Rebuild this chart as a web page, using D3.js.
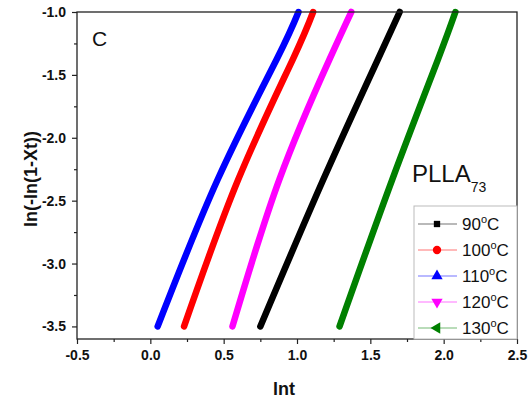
<!DOCTYPE html>
<html>

<head>
	<meta charset="UTF-8">
	<style>
		body {
			margin: 0;
			background: #fff;
		}

		text {
			font-family: Arial, "Liberation Sans", sans-serif;
		}

		.tick text {
			font-size: 14px;
			font-weight: bold;
		}
	</style>
</head>

<body>
	<script src="https://cdn.jsdelivr.net/npm/d3@7"></script>

	<script>
		// ln(-ln(1-Xt)) levels where the curves were read
		const levels = [-3.5, -2.33, -1.38, -1.0];

		// ln t at each level
		const t90 = [0.75, 1.18, 1.55, 1.70];
		const t100 = [0.23, 0.60, 0.97, 1.11];
		const t110 = [0.05, 0.46, 0.86, 1.01];
		const t120 = [0.56, 0.88, 1.22, 1.37];
		const t130 = [1.29, 1.65, 1.96, 2.08];

		const labels = ['90', '100', '110', '120', '130'];
		const colors = ['#000000', '#ff0000', '#0000ff', '#ff00ff', '#008000'];
		const symbols = [d3.symbolSquare, d3.symbolCircle, d3.symbolTriangle, d3.symbolTriangle, d3.symbolTriangle];
		const rotations = [0, 0, 0, 180, -90];

		const xTicks = [-0.5, 0.0, 0.5, 1.0, 1.5, 2.0, 2.5];
		const yTicks = [-3.5, -3.0, -2.5, -2.0, -1.5, -1.0];

		const series = [t90, t100, t110, t120, t130];

		const width = 530;
		const height = 406;
		const margin = {top: 12, right: 13, bottom: 67, left: 77};

		// plain hyphen for negatives, like the original
		const fmt = d => d.toFixed(1);

		const svg = d3.select('body')
			.append('svg')
			.attr('width', width)
			.attr('height', height);

		const x = d3.scaleLinear()
			.domain([-0.5, 2.5])
			.range([margin.left, width - margin.right]);

		const y = d3.scaleLinear()
			.domain([-3.6, -1.0])
			.range([height - margin.bottom, margin.top]);

		// minor ticks
		svg.append('g')
			.attr('transform', `translate(0,${height - margin.bottom})`)
			.call(d3.axisBottom(x).tickValues(d3.range(-0.25, 2.5, 0.5)).tickSize(3).tickFormat(''))
			.call(g => g.select('.domain').remove());

		svg.append('g')
			.attr('transform', `translate(${margin.left},0)`)
			.call(d3.axisLeft(y).tickValues(d3.range(-3.25, -1.0, 0.5)).tickSize(3).tickFormat(''))
			.call(g => g.select('.domain').remove());

		// major ticks
		svg.append('g')
			.attr('transform', `translate(0,${height - margin.bottom})`)
			.call(d3.axisBottom(x).tickValues(xTicks).tickSize(5).tickPadding(6).tickFormat(fmt))
			.call(g => g.select('.domain').remove());

		svg.append('g')
			.attr('transform', `translate(${margin.left},0)`)
			.call(d3.axisLeft(y).tickValues(yTicks).tickSize(5).tickPadding(6).tickFormat(fmt))
			.call(g => g.select('.domain').remove());

		svg.selectAll('.tick line').attr('stroke', '#222').attr('stroke-width', 1.2);
		svg.selectAll('.tick text').attr('fill', '#111');

		// curves
		const line = d3.line()
			.x(d => x(d[0]))
			.y(d => y(d[1]))
			.curve(d3.curveNatural);

		svg.append('g')
			.selectAll('path')
			.data(series)
			.enter().append('path')
				.attr('d', s => line(s.map((v, i) => [v, levels[i]])))
				.attr('fill', 'none')
				.attr('stroke', (s, i) => colors[i])
				.attr('stroke-width', 6.5)
				.attr('stroke-linecap', 'round');

		// frame
		svg.append('rect')
			.attr('x', margin.left)
			.attr('y', margin.top)
			.attr('width', width - margin.left - margin.right)
			.attr('height', height - margin.top - margin.bottom)
			.attr('fill', 'none')
			.attr('stroke', '#222')
			.attr('stroke-width', 1.3);

		// legend
		const lg = svg.append('g');
		lg.append('rect')
			.attr('x', 414)
			.attr('y', 206)
			.attr('width', width - margin.right - 414)
			.attr('height', height - margin.bottom - 206)
			.attr('fill', '#fff')
			.attr('stroke', '#bbb')
			.attr('stroke-width', 1);

		const items = lg.selectAll('g.item')
			.data(labels)
			.enter().append('g')
				.attr('class', 'item')
				.attr('transform', (d, i) => `translate(0,${224 + i * 26})`);

		items.append('line')
			.attr('x1', 418)
			.attr('x2', 457)
			.attr('stroke', (d, i) => colors[i])
			.attr('stroke-opacity', 0.55)
			.attr('stroke-width', 1);

		items.append('path')
			.attr('transform', (d, i) => `translate(437,0) rotate(${rotations[i]})`)
			.attr('d', (d, i) => d3.symbol().type(symbols[i]).size(i === 0 ? 40 : 55)())
			.attr('fill', (d, i) => colors[i]);

		const lt = items.append('text')
			.attr('x', 462)
			.attr('y', 6)
			.attr('font-size', 17)
			.attr('fill', '#111');
		lt.append('tspan').text(d => d);
		lt.append('tspan').attr('font-size', 11).attr('dy', -7).text('o');
		lt.append('tspan').attr('dy', 7).text('C');

		// annotations
		svg.append('text')
			.attr('x', 92)
			.attr('y', 46)
			.attr('font-size', 21)
			.attr('fill', '#111')
			.text('C');

		const pl = svg.append('text')
			.attr('x', 412)
			.attr('y', 182)
			.attr('font-size', 24)
			.attr('fill', '#111');
		pl.append('tspan').text('PLLA');
		pl.append('tspan').attr('font-size', 14).attr('dy', 10).text('73');

		// axis titles
		svg.append('text')
			.attr('x', 284)
			.attr('y', 395)
			.attr('text-anchor', 'middle')
			.attr('font-size', 18)
			.attr('font-weight', 'bold')
			.attr('fill', '#111')
			.text('lnt');

		svg.append('text')
			.attr('transform', 'translate(37,179) rotate(-90)')
			.attr('text-anchor', 'middle')
			.attr('font-size', 18)
			.attr('font-weight', 'bold')
			.attr('fill', '#111')
			.text('ln(-ln(1-Xt))');
	</script>
</body>

</html>
